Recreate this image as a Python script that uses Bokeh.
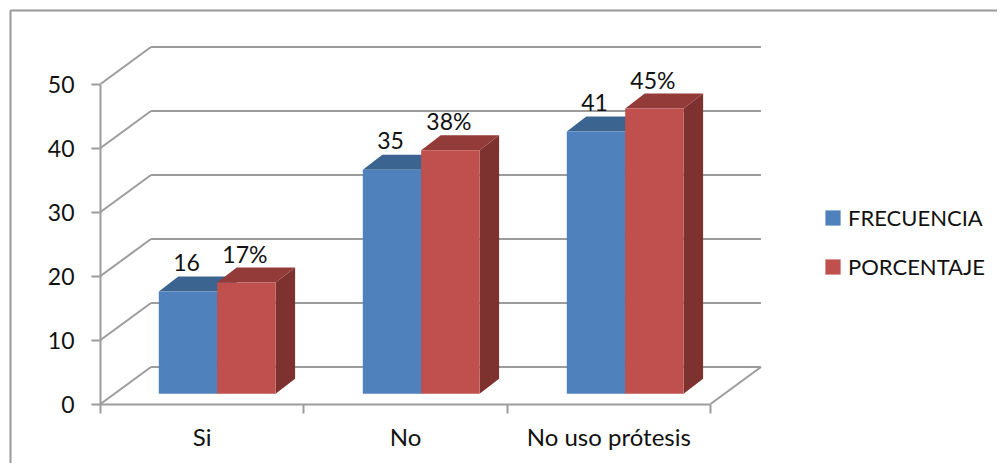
from bokeh.plotting import figure
from bokeh.embed import file_html
from bokeh.resources import INLINE
from bokeh.models import Range1d, FixedTicker, Legend, LegendItem, ColumnDataSource
from bokeh.core.properties import value

categories = ["Si", "No", "No uso prótesis"]
frecuencia = [16, 35, 41]
porcentaje = [17.39, 38.04, 44.57]
porcentaje_labels = ["17%", "38%", "45%"]
y_ticks = [0, 10, 20, 30, 40, 50]

# layout (picture px)
W, H = 997, 463
PAGE = 0
X0, XU = 100.0, 203.33     # px of category 0, px per category
Y0, YU = 403.5, 6.4        # px of value 0, px per unit
WALL_DX, WALL_DY = 50.5, 37.0
BAR_DX0, BAR_DY0 = 13.8, 10.2
BAR_DX, BAR_DY = 19.5, 15.0
BAR_W = 58.4
BAR_GAP = 44.5
BAR_STEP = 204.0

GRID = "#9C9C9C"
FONT = "Lato"

dx = lambda px: px / XU
dy = lambda px: px / YU
fx = lambda px: (px - X0) / XU
fy = lambda px: (Y0 - px) / YU

p = figure(width=W, height=H, output_backend="svg", toolbar_location=None,
           x_range=Range1d(fx(PAGE), fx(PAGE + W)),
           y_range=Range1d(fy(PAGE + H), fy(PAGE)),
           min_border=0, outline_line_color=None)
p.grid.visible = False

# outer chart frame (top and left edges)
p.line([fx(10), fx(10), fx(PAGE + W)], [fy(PAGE + H), fy(10), fy(10)],
       line_color="#999999", line_width=2)

# walls
n = len(categories)
back_x, back_y, diag_x, diag_y = [], [], [], []
for t in y_ticks:
    diag_x.append([0, dx(WALL_DX)])
    diag_y.append([t, t + dy(WALL_DY)])
    back_x.append([dx(WALL_DX), n + dx(WALL_DX)])
    back_y.append([t + dy(WALL_DY), t + dy(WALL_DY)])
p.multi_line(back_x, back_y, line_color=GRID, line_width=2)
p.multi_line(diag_x, diag_y, line_color=GRID, line_width=2)
p.line([n, n + dx(WALL_DX)], [0, dy(WALL_DY)], line_color=GRID, line_width=2)

# bars
def faces(vals, offset):
    front = dict(l=[], r=[], b=[], t=[])
    top = dict(x=[], y=[])
    side = dict(x=[], y=[])
    for i, v in enumerate(vals):
        l = dx(i * BAR_STEP + BAR_GAP + BAR_DX0 + offset)
        r = l + dx(BAR_W)
        b = dy(BAR_DY0)
        t = v + b
        ox, oy = dx(BAR_DX), dy(BAR_DY)
        front["l"].append(l); front["r"].append(r); front["b"].append(b); front["t"].append(t)
        top["x"].append([l, r, r + ox, l + ox]); top["y"].append([t, t, t + oy, t + oy])
        side["x"].append([r, r + ox, r + ox, r]); side["y"].append([b, b + oy, t + oy, t])
    return front, top, side

fb, tb, sb = faces(frecuencia, 0)
fr, tr, sr = faces(porcentaje, BAR_W)

p.patches("x", "y", source=ColumnDataSource(sb), fill_color="#2F4F7A", line_color=None)
p.patches("x", "y", source=ColumnDataSource(tb), fill_color="#3C6491", line_color=None)
blue = p.quad(left="l", right="r", bottom="b", top="t", source=ColumnDataSource(fb),
              fill_color="#4F81BD", line_color=None)
p.patches("x", "y", source=ColumnDataSource(sr), fill_color="#7D3230", line_color=None)
p.patches("x", "y", source=ColumnDataSource(tr), fill_color="#923B39", line_color=None)
red = p.quad(left="l", right="r", bottom="b", top="t", source=ColumnDataSource(fr),
             fill_color="#C0504D", line_color=None)

# data labels
def labels(front, texts):
    xs = [(a + b) / 2 - dx(1.5) for a, b in zip(front["l"], front["r"])]
    ys = [t + dy(BAR_DY) for t in front["t"]]
    p.text(xs, ys, text=texts, text_align="center", text_baseline="alphabetic",
           y_offset=-14, text_color="#111111", text_font=value(FONT), text_font_size="23px")

labels(fb, [str(v) for v in frecuencia])
labels(fr, porcentaje_labels)

# axes
ya = p.yaxis[0]
ya.fixed_location = 0
ya.bounds = (0, 50)
ya.ticker = FixedTicker(ticks=y_ticks)
ya.major_tick_in = 0
ya.major_tick_out = 9
ya.minor_tick_line_color = None
ya.major_tick_line_color = GRID
ya.major_tick_line_width = 2
ya.axis_line_color = GRID
ya.axis_line_width = 2
ya.major_label_standoff = 17
ya.major_label_text_font = FONT
ya.major_label_text_font_size = "23px"
ya.major_label_text_color = "#111111"

xa = p.xaxis[0]
xa.fixed_location = 0
xa.bounds = (0, n)
xa.ticker = FixedTicker(ticks=[i + 0.5 for i in range(n)], minor_ticks=list(range(n + 1)))
xa.major_label_overrides = {i + 0.5: c for i, c in enumerate(categories)}
xa.major_tick_line_color = None
xa.major_tick_in = 0
xa.major_tick_out = 0
xa.minor_tick_in = 0
xa.minor_tick_out = 9
xa.minor_tick_line_color = GRID
xa.minor_tick_line_width = 2
xa.axis_line_color = GRID
xa.axis_line_width = 2
xa.major_label_standoff = 9
xa.major_label_text_font = FONT
xa.major_label_text_font_size = "24px"
xa.major_label_text_color = "#111111"

# legend
legend = Legend(items=[LegendItem(label="FRECUENCIA", renderers=[blue]),
                       LegendItem(label="PORCENTAJE", renderers=[red])],
                location=(823, 183), orientation="vertical",
                glyph_width=19, glyph_height=19, label_standoff=6, spacing=22,
                padding=0, margin=0, border_line_color=None, background_fill_alpha=0,
                label_text_font=FONT, label_text_font_size="22px", label_text_color="#111111")
p.add_layout(legend)

open("out.html", "w").write(file_html(p, INLINE))
